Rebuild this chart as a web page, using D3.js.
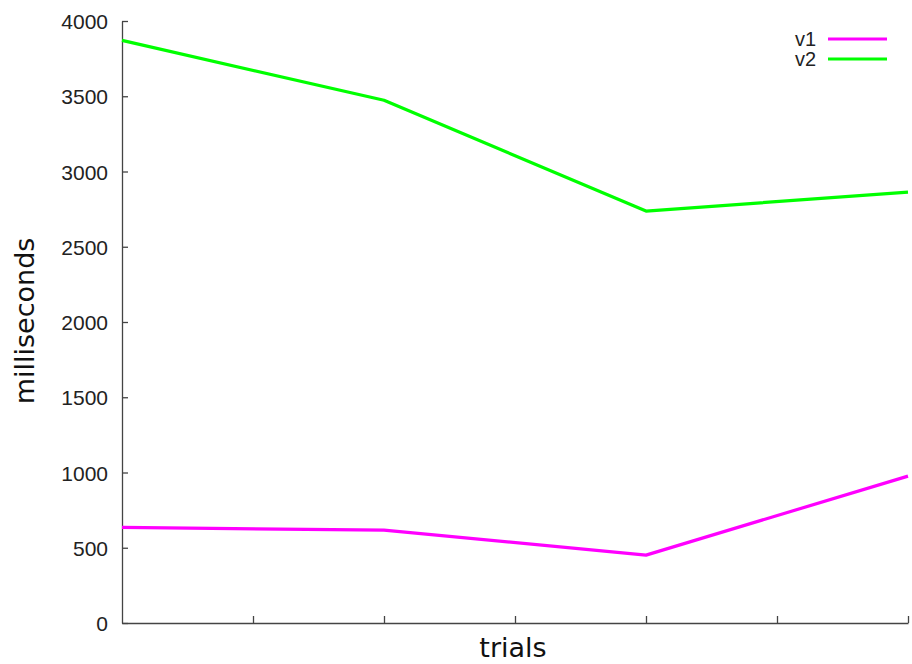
<!DOCTYPE html>
<html>
<head>
<meta charset="utf-8">
<script src="https://cdn.jsdelivr.net/npm/d3@7"></script>
<style>
  body { margin: 0; background: #fff; }
  .axis text { font-family: "Liberation Sans", Arial, sans-serif; font-size: 21px; fill: #222; }
  .axis path, .axis line { stroke: #444; stroke-width: 1.3; }
</style>
</head>
<body>
<div id="chart"></div>
<script>
// data
const trials = [0, 2, 4, 6];
const v1 = [635, 617, 451, 976];
const v2 = [3871, 3473, 2737, 2863];
const yTicks = [0, 500, 1000, 1500, 2000, 2500, 3000, 3500, 4000];
const xTicks = [1, 2, 3, 4, 5, 6];
const seriesNames = ["v1", "v2"];
const seriesColors = ["#ff00ff", "#00ff00"];

const width = 912;
const height = 664;
const margin = {top: 21, right: 4, bottom: 41, left: 122};

const svg = d3.select("#chart")
  .append("svg")
  .attr("width", width)
  .attr("height", height);

const x = d3.scaleLinear()
  .domain([0, 6])
  .range([margin.left, width - margin.right]);

const y = d3.scaleLinear()
  .domain([0, 4000])
  .range([height - margin.bottom, margin.top]);

// y axis, ticks point inward
svg.append("g")
  .attr("class", "axis")
  .attr("transform", `translate(${margin.left},0)`)
  .call(d3.axisLeft(y).tickValues(yTicks).tickFormat(d3.format("d"))
    .tickSize(-6).tickSizeOuter(0).tickPadding(14))
  .selectAll("text").attr("dy", "0.36em");

// x axis, no labels
svg.append("g")
  .attr("class", "axis")
  .attr("transform", `translate(0,${height - margin.bottom})`)
  .call(d3.axisBottom(x).tickValues(xTicks).tickSize(-7).tickSizeOuter(0).tickFormat(""));

// axis titles
svg.append("text")
  .attr("x", 513)
  .attr("y", 657)
  .attr("text-anchor", "middle")
  .style("font-family", "DejaVu Sans, sans-serif")
  .style("font-size", "27px")
  .style("fill", "#111")
  .text("trials");

svg.append("text")
  .attr("transform", "translate(34,321) rotate(-90)")
  .attr("text-anchor", "middle")
  .style("font-family", "DejaVu Sans, sans-serif")
  .style("font-size", "27px")
  .style("fill", "#111")
  .text("milliseconds");

// lines
const line = d3.line()
  .x((d, i) => x(trials[i]))
  .y(d => y(d));

[v1, v2].forEach((vals, i) => {
  svg.append("path")
    .datum(vals)
    .attr("d", line)
    .attr("fill", "none")
    .attr("stroke", seriesColors[i])
    .attr("stroke-width", 3.2)
    .attr("stroke-linejoin", "round");
});

// legend, top right
const legend = svg.append("g").attr("transform", "translate(816,39)");
seriesNames.forEach((name, i) => {
  const row = legend.append("g").attr("transform", `translate(0,${i * 20})`);
  row.append("text")
    .attr("x", 0)
    .attr("y", 0)
    .attr("dy", "0.35em")
    .attr("text-anchor", "end")
    .style("font-family", "Liberation Sans, Arial, sans-serif")
    .style("font-size", "20px")
    .style("fill", "#222")
    .text(name);
  row.append("line")
    .attr("x1", 12).attr("x2", 71)
    .attr("stroke", seriesColors[i])
    .attr("stroke-width", 3.2);
});
</script>
</body>
</html>
